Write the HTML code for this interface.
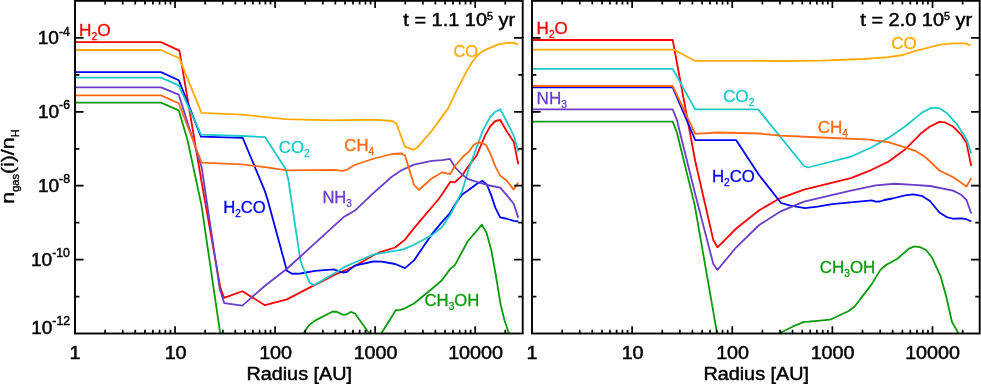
<!DOCTYPE html>
<html><head><meta charset="utf-8"><title>chart</title>
<style>html,body{margin:0;padding:0;background:#fff;}body{width:981px;height:384px;overflow:hidden;position:relative;font-family:"Liberation Sans",sans-serif;}</style></head>
<body>
<svg width="981" height="384" viewBox="0 0 981 384" style="position:absolute;left:0;top:0;filter:brightness(1);font-family:'Liberation Sans',sans-serif">
<rect x="0" y="0" width="981" height="384" fill="#fff"/>
<defs><clipPath id="c1"><rect x="75.0" y="1.0" width="447.7" height="332.5"/></clipPath><clipPath id="c2"><rect x="532.0" y="1.0" width="447.7" height="332.5"/></clipPath></defs>
<g clip-path="url(#c1)" fill="none" stroke-width="1.80" stroke-linejoin="round" stroke-linecap="butt">
<path d="M75.00 42.10 L161.00 42.10 L179.40 50.60 L201.50 181.50 L220.20 287.00 L224.00 297.90 L242.30 291.25 L265.00 305.20 L286.90 299.40 L314.00 285.40 L338.00 273.30 L354.60 266.25 L373.30 255.20 L381.70 251.70 L395.20 247.50 L405.00 239.60 L414.00 228.10 L437.90 200.00 L442.10 194.20 L450.40 181.70 L454.60 182.30 L462.10 175.60 L468.30 166.25 L476.70 155.40 L485.00 135.60 L490.20 126.25 L495.40 121.00 L500.20 120.00 L506.90 131.50 L513.75 141.90 L518.30 164.20" stroke="#ff0000"/>
<path d="M75.00 50.00 L161.00 50.00 L179.40 58.30 L201.50 112.90 L241.70 114.60 L265.00 117.10 L285.80 119.20 L333.75 120.40 L373.30 119.60 L392.00 121.00 L396.25 123.30 L405.00 146.70 L413.75 149.80 L418.10 146.70 L431.70 131.00 L448.30 108.10 L456.70 90.40 L467.00 70.60 L472.00 62.30 L477.50 55.00 L482.00 51.60 L488.00 48.60 L498.30 44.40 L508.75 42.70 L515.00 43.10 L518.30 44.80" stroke="#ffaa00"/>
<path d="M75.00 72.10 L161.00 72.10 L178.75 80.20 L201.00 136.70 L242.70 137.90 L264.60 190.40 L267.70 200.00 L286.90 270.80 L292.00 273.75 L300.40 273.50 L315.00 270.80 L333.75 269.40 L342.50 272.50 L346.70 272.00 L354.60 265.60 L373.30 261.50 L381.70 261.70 L395.20 264.00 L405.00 268.10 L414.00 260.40 L431.70 234.40 L442.10 221.90 L450.00 213.10 L454.80 204.80 L462.10 194.40 L468.30 190.20 L476.70 184.00 L482.50 180.80 L487.10 185.00 L491.25 195.40 L495.40 207.90 L500.20 217.30 L506.90 218.75 L513.75 220.80 L518.30 221.50" stroke="#0000ff"/>
<path d="M75.00 77.60 L161.00 77.60 L178.75 85.40 L201.00 134.60 L241.70 136.00 L265.00 137.10 L285.80 169.20 L288.30 179.60 L300.40 260.40 L303.50 268.75 L309.80 282.70 L314.00 285.20 L337.90 271.25 L344.20 267.10 L354.60 262.50 L373.30 254.60 L390.00 251.70 L402.50 249.60 L414.00 244.80 L431.70 235.40 L442.10 227.10 L450.40 214.60 L454.80 205.80 L462.10 191.25 L468.30 170.40 L476.70 147.00 L482.90 130.40 L490.20 116.90 L495.40 111.70 L500.20 109.20 L506.90 122.00 L514.20 136.70 L518.30 151.70" stroke="#1cc8c8"/>
<path d="M75.00 87.30 L161.00 87.30 L178.75 94.60 L201.70 167.50 L219.80 289.00 L224.20 303.10 L242.30 305.60 L265.00 285.80 L286.90 268.75 L344.20 216.70 L348.30 214.40 L354.60 210.80 L373.30 193.10 L392.10 176.50 L401.50 170.20 L414.00 164.60 L431.70 160.80 L442.10 160.20 L450.00 158.90 L454.80 167.00 L462.10 174.60 L468.30 179.20 L476.70 181.90 L487.10 185.00 L500.20 187.70 L506.90 195.40 L513.75 203.75 L518.30 217.90" stroke="#6a3ec8"/>
<path d="M75.00 95.40 L161.00 95.40 L178.75 103.30 L201.70 162.70 L241.70 164.40 L265.00 167.10 L286.90 170.40 L333.75 169.80 L342.50 170.80 L346.70 169.80 L354.60 165.00 L373.30 158.75 L392.10 154.00 L401.50 153.50 L405.00 155.60 L414.00 184.80 L418.75 190.00 L431.70 178.50 L442.10 172.30 L450.00 174.20 L454.80 166.25 L464.20 155.40 L469.40 151.25 L473.50 145.00 L477.70 142.50 L481.90 142.90 L486.00 145.00 L490.20 153.30 L495.40 166.60 L500.20 175.60 L506.90 180.80 L513.75 189.60 L518.30 182.50" stroke="#ff6a14"/>
<path d="M75.00 102.70 L161.00 102.70 L178.75 110.40 L187.50 140.00 L201.50 205.40 L220.20 333.40" stroke="#0a9a0a"/>
<path d="M303.50 333.50 L308.75 325.40 L315.00 320.60 L332.70 311.50 L336.90 311.90 L342.50 314.60 L346.25 314.60 L350.80 311.90 L355.00 313.50 L369.20 333.50" stroke="#0a9a0a"/>
<path d="M381.25 333.50 L395.80 310.20 L400.40 309.80 L405.00 308.30 L414.00 303.50 L431.70 289.00 L437.90 283.75 L442.10 280.00 L450.60 268.40 L454.60 265.60 L467.80 241.25 L472.50 235.60 L476.70 230.80 L481.90 224.70 L486.30 232.20 L491.25 249.70 L496.00 276.25 L500.60 304.40 L504.40 320.00 L509.00 333.50" stroke="#0a9a0a"/>
</g>
<g clip-path="url(#c2)" fill="none" stroke-width="1.80" stroke-linejoin="round" stroke-linecap="butt">
<path d="M532.00 40.00 L672.70 40.00 L695.20 161.00 L713.30 240.00 L717.50 247.30 L736.25 228.50 L759.20 210.20 L780.00 198.30 L804.00 189.60 L850.80 178.10 L871.70 169.80 L888.30 161.70 L905.00 149.60 L921.70 132.70 L930.00 126.50 L939.40 121.90 L944.60 122.30 L953.00 126.50 L961.25 134.80 L966.50 143.10 L971.25 166.00" stroke="#ff0000"/>
<path d="M532.00 49.60 L673.75 49.60 L694.60 60.80 L780.00 61.00 L821.70 60.60 L863.30 59.00 L888.30 57.10 L903.00 55.00 L915.40 50.80 L940.40 44.60 L953.00 43.30 L965.40 43.30 L970.60 45.40" stroke="#ffaa00"/>
<path d="M532.00 87.30 L672.70 87.30 L695.20 140.00 L736.25 140.20 L759.20 175.20 L781.00 203.00 L790.40 205.60 L805.00 208.10 L817.50 206.70 L832.10 204.20 L871.70 200.40 L875.80 201.70 L880.00 201.50 L884.20 200.00 L892.50 198.50 L905.00 195.40 L913.30 194.40 L921.70 195.80 L930.00 201.00 L939.40 212.50 L946.70 217.10 L953.00 218.75 L961.25 218.30 L966.50 219.20 L971.25 221.50" stroke="#0000ff"/>
<path d="M532.00 68.90 L672.70 68.90 L695.20 109.40 L758.10 109.40 L804.00 166.00 L808.10 167.50 L850.80 156.70 L871.70 147.30 L888.30 137.90 L905.00 126.50 L921.70 112.90 L930.00 108.30 L935.20 107.70 L939.40 108.30 L946.70 112.90 L957.00 124.40 L966.50 139.00 L971.25 153.50" stroke="#1cc8c8"/>
<path d="M532.00 109.40 L672.70 109.40 L676.90 120.00 L695.20 194.00 L713.30 264.00 L717.50 269.90 L736.25 247.30 L759.20 225.00 L780.00 211.70 L804.00 201.70 L850.80 190.60 L875.80 185.40 L894.60 183.75 L913.30 184.80 L930.00 186.00 L953.00 190.60 L961.25 194.80 L966.50 200.00 L971.25 213.50" stroke="#6a3ec8"/>
<path d="M532.00 86.00 L672.70 86.00 L695.20 133.80 L717.50 132.50 L759.20 133.50 L780.00 135.70 L821.70 137.50 L869.60 139.60 L875.80 140.60 L888.30 142.10 L905.00 147.30 L915.40 150.80 L925.80 157.50 L939.40 170.50 L953.00 177.10 L966.50 186.50 L971.25 178.10" stroke="#ff6a14"/>
<path d="M532.00 121.70 L672.70 121.70 L676.90 132.50 L694.60 204.60 L717.10 333.50" stroke="#0a9a0a"/>
<path d="M779.00 333.50 L792.50 326.70 L804.00 321.90 L808.60 321.70 L817.50 320.80 L830.00 319.70 L848.70 311.00 L854.40 306.80 L871.60 284.40 L880.20 270.10 L886.00 265.00 L897.40 258.70 L908.90 248.60 L914.60 246.30 L920.30 247.20 L926.00 250.00 L931.80 257.20 L940.40 275.80 L946.10 295.90 L951.90 321.70 L958.50 333.50" stroke="#0a9a0a"/>
</g>
<rect x="75.00" y="0.80" width="447.70" height="332.70" fill="none" stroke="#000" stroke-width="1.90"/>
<path d="M105.12 0.80 v3.80 M105.12 333.50 v-3.80 M122.74 0.80 v3.80 M122.74 333.50 v-3.80 M135.24 0.80 v3.80 M135.24 333.50 v-3.80 M144.93 0.80 v3.80 M144.93 333.50 v-3.80 M152.85 0.80 v3.80 M152.85 333.50 v-3.80 M159.55 0.80 v3.80 M159.55 333.50 v-3.80 M165.35 0.80 v3.80 M165.35 333.50 v-3.80 M170.47 0.80 v3.80 M170.47 333.50 v-3.80 M175.05 0.80 v7.30 M175.05 333.50 v-7.30 M205.17 0.80 v3.80 M205.17 333.50 v-3.80 M222.79 0.80 v3.80 M222.79 333.50 v-3.80 M235.29 0.80 v3.80 M235.29 333.50 v-3.80 M244.98 0.80 v3.80 M244.98 333.50 v-3.80 M252.90 0.80 v3.80 M252.90 333.50 v-3.80 M259.60 0.80 v3.80 M259.60 333.50 v-3.80 M265.40 0.80 v3.80 M265.40 333.50 v-3.80 M270.52 0.80 v3.80 M270.52 333.50 v-3.80 M275.10 0.80 v7.30 M275.10 333.50 v-7.30 M305.22 0.80 v3.80 M305.22 333.50 v-3.80 M322.84 0.80 v3.80 M322.84 333.50 v-3.80 M335.34 0.80 v3.80 M335.34 333.50 v-3.80 M345.03 0.80 v3.80 M345.03 333.50 v-3.80 M352.95 0.80 v3.80 M352.95 333.50 v-3.80 M359.65 0.80 v3.80 M359.65 333.50 v-3.80 M365.45 0.80 v3.80 M365.45 333.50 v-3.80 M370.57 0.80 v3.80 M370.57 333.50 v-3.80 M375.15 0.80 v7.30 M375.15 333.50 v-7.30 M405.27 0.80 v3.80 M405.27 333.50 v-3.80 M422.89 0.80 v3.80 M422.89 333.50 v-3.80 M435.39 0.80 v3.80 M435.39 333.50 v-3.80 M445.08 0.80 v3.80 M445.08 333.50 v-3.80 M453.00 0.80 v3.80 M453.00 333.50 v-3.80 M459.70 0.80 v3.80 M459.70 333.50 v-3.80 M465.50 0.80 v3.80 M465.50 333.50 v-3.80 M470.62 0.80 v3.80 M470.62 333.50 v-3.80 M475.20 0.80 v7.30 M475.20 333.50 v-7.30 M505.32 0.80 v3.80 M505.32 333.50 v-3.80 M75.00 296.56 h4.40 M522.70 296.56 h-4.40 M75.00 259.61 h8.60 M522.70 259.61 h-8.60 M75.00 222.67 h4.40 M522.70 222.67 h-4.40 M75.00 185.72 h8.60 M522.70 185.72 h-8.60 M75.00 148.78 h4.40 M522.70 148.78 h-4.40 M75.00 111.83 h8.60 M522.70 111.83 h-8.60 M75.00 74.89 h4.40 M522.70 74.89 h-4.40 M75.00 37.94 h8.60 M522.70 37.94 h-8.60" stroke="#000" stroke-width="1.70" fill="none"/>
<rect x="532.00" y="0.80" width="447.70" height="332.70" fill="none" stroke="#000" stroke-width="1.90"/>
<path d="M562.14 0.80 v3.80 M562.14 333.50 v-3.80 M579.77 0.80 v3.80 M579.77 333.50 v-3.80 M592.28 0.80 v3.80 M592.28 333.50 v-3.80 M601.99 0.80 v3.80 M601.99 333.50 v-3.80 M609.92 0.80 v3.80 M609.92 333.50 v-3.80 M616.62 0.80 v3.80 M616.62 333.50 v-3.80 M622.43 0.80 v3.80 M622.43 333.50 v-3.80 M627.55 0.80 v3.80 M627.55 333.50 v-3.80 M632.13 0.80 v7.30 M632.13 333.50 v-7.30 M662.27 0.80 v3.80 M662.27 333.50 v-3.80 M679.90 0.80 v3.80 M679.90 333.50 v-3.80 M692.41 0.80 v3.80 M692.41 333.50 v-3.80 M702.12 0.80 v3.80 M702.12 333.50 v-3.80 M710.05 0.80 v3.80 M710.05 333.50 v-3.80 M716.75 0.80 v3.80 M716.75 333.50 v-3.80 M722.56 0.80 v3.80 M722.56 333.50 v-3.80 M727.68 0.80 v3.80 M727.68 333.50 v-3.80 M732.26 0.80 v7.30 M732.26 333.50 v-7.30 M762.40 0.80 v3.80 M762.40 333.50 v-3.80 M780.03 0.80 v3.80 M780.03 333.50 v-3.80 M792.54 0.80 v3.80 M792.54 333.50 v-3.80 M802.25 0.80 v3.80 M802.25 333.50 v-3.80 M810.18 0.80 v3.80 M810.18 333.50 v-3.80 M816.88 0.80 v3.80 M816.88 333.50 v-3.80 M822.69 0.80 v3.80 M822.69 333.50 v-3.80 M827.81 0.80 v3.80 M827.81 333.50 v-3.80 M832.39 0.80 v7.30 M832.39 333.50 v-7.30 M862.53 0.80 v3.80 M862.53 333.50 v-3.80 M880.16 0.80 v3.80 M880.16 333.50 v-3.80 M892.67 0.80 v3.80 M892.67 333.50 v-3.80 M902.38 0.80 v3.80 M902.38 333.50 v-3.80 M910.31 0.80 v3.80 M910.31 333.50 v-3.80 M917.01 0.80 v3.80 M917.01 333.50 v-3.80 M922.82 0.80 v3.80 M922.82 333.50 v-3.80 M927.94 0.80 v3.80 M927.94 333.50 v-3.80 M932.52 0.80 v7.30 M932.52 333.50 v-7.30 M962.66 0.80 v3.80 M962.66 333.50 v-3.80 M532.00 296.56 h4.40 M979.70 296.56 h-4.40 M532.00 259.61 h8.60 M979.70 259.61 h-8.60 M532.00 222.67 h4.40 M979.70 222.67 h-4.40 M532.00 185.72 h8.60 M979.70 185.72 h-8.60 M532.00 148.78 h4.40 M979.70 148.78 h-4.40 M532.00 111.83 h8.60 M979.70 111.83 h-8.60 M532.00 74.89 h4.40 M979.70 74.89 h-4.40 M532.00 37.94 h8.60 M979.70 37.94 h-8.60" stroke="#000" stroke-width="1.70" fill="none"/>
<g fill="#000" stroke="#000" stroke-width="0.45"><text transform="translate(69.53 358.50) scale(1.1300 1)" font-size="17.50">1</text></g>
<g fill="#000" stroke="#000" stroke-width="0.45"><text transform="translate(164.63 358.50) scale(1.1300 1)" font-size="17.50">10</text></g>
<g fill="#000" stroke="#000" stroke-width="0.45"><text transform="translate(259.13 358.50) scale(1.1300 1)" font-size="17.50">100</text></g>
<g fill="#000" stroke="#000" stroke-width="0.45"><text transform="translate(353.63 358.50) scale(1.1300 1)" font-size="17.50">1000</text></g>
<g fill="#000" stroke="#000" stroke-width="0.45"><text transform="translate(448.13 358.50) scale(1.1300 1)" font-size="17.50">10000</text></g>
<g fill="#000" stroke="#000" stroke-width="0.45"><text transform="translate(246.38 379.50) scale(1.1323 1)" font-size="17.50">Radius&#160;[AU]</text></g>
<g fill="#000" stroke="#000" stroke-width="0.45"><text transform="translate(526.53 358.50) scale(1.1300 1)" font-size="17.50">1</text></g>
<g fill="#000" stroke="#000" stroke-width="0.45"><text transform="translate(621.63 358.50) scale(1.1300 1)" font-size="17.50">10</text></g>
<g fill="#000" stroke="#000" stroke-width="0.45"><text transform="translate(716.13 358.50) scale(1.1300 1)" font-size="17.50">100</text></g>
<g fill="#000" stroke="#000" stroke-width="0.45"><text transform="translate(810.63 358.50) scale(1.1300 1)" font-size="17.50">1000</text></g>
<g fill="#000" stroke="#000" stroke-width="0.45"><text transform="translate(905.13 358.50) scale(1.1300 1)" font-size="17.50">10000</text></g>
<g fill="#000" stroke="#000" stroke-width="0.45"><text transform="translate(703.38 379.50) scale(1.1323 1)" font-size="17.50">Radius&#160;[AU]</text></g>
<g fill="#000" stroke="#000" stroke-width="0.45"><text transform="translate(37.71 44.24) scale(1.0900 1)" font-size="17.50">10</text><text transform="translate(58.93 35.54) scale(0.9600 1)" font-size="12.80">-4</text></g>
<g fill="#000" stroke="#000" stroke-width="0.45"><text transform="translate(37.89 118.13) scale(1.0900 1)" font-size="17.50">10</text><text transform="translate(59.10 109.43) scale(0.9600 1)" font-size="12.80">-6</text></g>
<g fill="#000" stroke="#000" stroke-width="0.45"><text transform="translate(37.89 192.02) scale(1.0900 1)" font-size="17.50">10</text><text transform="translate(59.10 183.32) scale(0.9600 1)" font-size="12.80">-8</text></g>
<g fill="#000" stroke="#000" stroke-width="0.45"><text transform="translate(30.99 265.91) scale(1.0900 1)" font-size="17.50">10</text><text transform="translate(52.21 257.21) scale(0.9600 1)" font-size="12.80">-10</text></g>
<g fill="#000" stroke="#000" stroke-width="0.45"><text transform="translate(31.14 333.50) scale(1.0900 1)" font-size="17.50">10</text><text transform="translate(52.36 324.80) scale(0.9600 1)" font-size="12.80">-12</text></g>
<g fill="#000" stroke="#000" stroke-width="0.35" transform="translate(14.4 166.3) rotate(-90)"><text transform="translate(-37.41 0.00) scale(1.1401 1)" font-size="18.70">n</text><text transform="translate(-25.55 4.20) scale(0.9501 1)" font-size="11.60">gas</text><text transform="translate(-7.78 0.00) scale(1.1401 1)" font-size="18.70">(i)/n</text><text transform="translate(28.94 4.20) scale(0.9501 1)" font-size="11.60">H</text></g>
<g fill="#000" stroke="#000" stroke-width="0.45"><text transform="translate(403.30 26.30) scale(1.1406 1)" font-size="17.50">t&#160;=&#160;1.1&#160;10</text><text transform="translate(487.09 20.00) scale(1.0094 1)" font-size="10.60">5</text><text transform="translate(493.04 26.30) scale(1.1406 1)" font-size="17.50">&#160;yr</text></g>
<g fill="#000" stroke="#000" stroke-width="0.45"><text transform="translate(860.30 26.30) scale(1.1406 1)" font-size="17.50">t&#160;=&#160;2.0&#160;10</text><text transform="translate(944.09 20.00) scale(1.0094 1)" font-size="10.60">5</text><text transform="translate(950.04 26.30) scale(1.1406 1)" font-size="17.50">&#160;yr</text></g>
<g fill="#ff0000" stroke="#ff0000" stroke-width="0.30"><text transform="translate(78.99 35.50) scale(1.0644 1)" font-size="16.20">H</text><text transform="translate(91.44 39.60) scale(1.0334 1)" font-size="10.04">2</text><text transform="translate(97.21 35.50) scale(1.0644 1)" font-size="16.20">O</text></g>
<g fill="#ffaa00" stroke="#ffaa00" stroke-width="0.30"><text transform="translate(453.38 56.70) scale(1.0127 1)" font-size="16.20">CO</text></g>
<g fill="#1cc8c8" stroke="#1cc8c8" stroke-width="0.30"><text transform="translate(278.76 153.30) scale(1.0414 1)" font-size="16.20">CO</text><text transform="translate(304.06 157.40) scale(1.0110 1)" font-size="10.04">2</text></g>
<g fill="#ff6a14" stroke="#ff6a14" stroke-width="0.30"><text transform="translate(344.37 151.25) scale(1.0297 1)" font-size="16.20">CH</text><text transform="translate(368.46 155.35) scale(0.9997 1)" font-size="10.04">4</text></g>
<g fill="#0000ff" stroke="#0000ff" stroke-width="0.30"><text transform="translate(223.23 213.00) scale(1.0276 1)" font-size="16.20">H</text><text transform="translate(235.26 217.10) scale(0.9976 1)" font-size="10.04">2</text><text transform="translate(240.83 213.00) scale(1.0276 1)" font-size="16.20">CO</text></g>
<g fill="#6a3ec8" stroke="#6a3ec8" stroke-width="0.30"><text transform="translate(322.39 203.00) scale(1.0250 1)" font-size="16.20">NH</text><text transform="translate(346.37 207.10) scale(0.9952 1)" font-size="10.04">3</text></g>
<g fill="#0a9a0a" stroke="#0a9a0a" stroke-width="0.30"><text transform="translate(424.56 306.20) scale(1.0314 1)" font-size="16.20">CH</text><text transform="translate(448.70 310.30) scale(1.0013 1)" font-size="10.04">3</text><text transform="translate(454.29 306.20) scale(1.0314 1)" font-size="16.20">OH</text></g>
<g fill="#ff0000" stroke="#ff0000" stroke-width="0.30"><text transform="translate(536.61 33.75) scale(1.0500 1)" font-size="16.20">H</text><text transform="translate(548.89 37.85) scale(1.0194 1)" font-size="10.04">2</text><text transform="translate(554.58 33.75) scale(1.0500 1)" font-size="16.20">O</text></g>
<g fill="#ffaa00" stroke="#ffaa00" stroke-width="0.30"><text transform="translate(891.15 49.20) scale(1.0479 1)" font-size="16.20">CO</text></g>
<g fill="#1cc8c8" stroke="#1cc8c8" stroke-width="0.30"><text transform="translate(722.89 101.50) scale(1.0642 1)" font-size="16.20">CO</text><text transform="translate(748.75 105.60) scale(1.0332 1)" font-size="10.04">2</text></g>
<g fill="#ff6a14" stroke="#ff6a14" stroke-width="0.30"><text transform="translate(817.65 132.70) scale(1.0531 1)" font-size="16.20">CH</text><text transform="translate(842.29 136.80) scale(1.0224 1)" font-size="10.04">4</text></g>
<g fill="#0000ff" stroke="#0000ff" stroke-width="0.30"><text transform="translate(711.92 181.50) scale(1.0352 1)" font-size="16.20">H</text><text transform="translate(724.04 185.60) scale(1.0050 1)" font-size="10.04">2</text><text transform="translate(729.65 181.50) scale(1.0352 1)" font-size="16.20">CO</text></g>
<g fill="#6a3ec8" stroke="#6a3ec8" stroke-width="0.30"><text transform="translate(536.60 104.20) scale(1.0527 1)" font-size="16.20">NH</text><text transform="translate(561.23 108.30) scale(1.0221 1)" font-size="10.04">3</text></g>
<g fill="#0a9a0a" stroke="#0a9a0a" stroke-width="0.30"><text transform="translate(819.75 273.00) scale(1.0451 1)" font-size="16.20">CH</text><text transform="translate(844.21 277.10) scale(1.0147 1)" font-size="10.04">3</text><text transform="translate(849.88 273.00) scale(1.0451 1)" font-size="16.20">OH</text></g>
</svg>
</body></html>
